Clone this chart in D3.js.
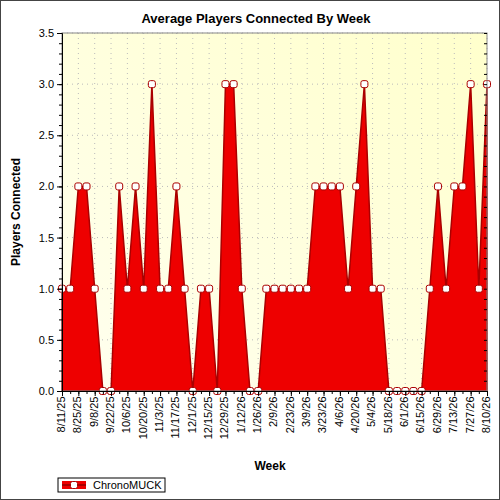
<!DOCTYPE html>
<html><head><meta charset="utf-8">
<script src="https://cdn.jsdelivr.net/npm/d3@7"></script>
<style>body{margin:0;background:#fff}text{font-family:"Liberation Sans",Arial,sans-serif}</style>
</head><body><div id="main"></div>
<script>
// ---- data ----
let startWeek = "2025-08-11";
let players = [1,1,2,2,1,0,0,2,1,2,1,3,1,1,2,1,0,1,1,0,3,3,1,0,0,1,1,
               1,1,1,1,2,2,2,2,1,2,3,1,1,0,0,0,0,0,1,2,1,2,2,3,1,3];
let seriesName = "ChronoMUCK";
let yTicks = [0,0.5,1,1.5,2,2.5,3,3.5];

let width = 500, height = 500;
let m = {left: 62, right: 13, top: 33, bottom: 109};

let svg = d3.select("#main").append("svg")
  .attr("width", width).attr("height", height);

let fmt = d3.timeFormat("%-m/%-d/%y");
let t0 = new Date(startWeek + "T00:00:00");
let data = players.map((v, i) => ({date: d3.timeWeek.offset(t0, i), value: v}));

let x = d3.scaleTime()
  .domain([data[0].date, data[data.length - 1].date])
  .range([m.left, width - m.right]);
let y = d3.scaleLinear().domain([0, 3.5]).range([height - m.bottom, m.top]);

// background gradient
let defs = svg.append("defs");
let grad = defs.append("linearGradient").attr("id", "bg")
  .attr("x1", "0").attr("y1", "1").attr("x2", "1").attr("y2", "0");
grad.append("stop").attr("offset", "0").attr("stop-color", "#fffff0");
grad.append("stop").attr("offset", "1").attr("stop-color", "#ffffcc");

svg.append("rect").attr("x", 0.5).attr("y", 0.5).attr("width", width - 1).attr("height", height - 1)
  .attr("fill", "#fff").attr("stroke", "#444");

svg.append("rect").attr("x", m.left).attr("y", m.top)
  .attr("width", width - m.left - m.right).attr("height", height - m.top - m.bottom)
  .attr("fill", "url(#bg)");

// dotted grid
svg.append("g").selectAll("line").data(yTicks.slice(1))
  .join("line").attr("x1", m.left).attr("x2", width - m.right)
  .attr("y1", d => y(d)).attr("y2", d => y(d))
  .attr("stroke", "#bbb").attr("stroke-dasharray", "1,4");
let labelWeeks = data.filter((d, i) => i % 2 === 0).map(d => d.date);
svg.append("g").selectAll("line").data(labelWeeks)
  .join("line").attr("x1", d => x(d)).attr("x2", d => x(d))
  .attr("y1", m.top).attr("y2", height - m.bottom)
  .attr("stroke", "#bbb").attr("stroke-dasharray", "1,4");

// area
let area = d3.area().x(d => x(d.date)).y0(y(0)).y1(d => y(d.value));
svg.append("path").datum(data).attr("d", area)
  .attr("fill", "#ee0000").attr("stroke", "#aa0000").attr("stroke-width", 1.5);

// markers
svg.append("g").selectAll("rect").data(data).join("rect")
  .attr("x", d => x(d.date) - 3.5).attr("y", d => y(d.value) - 3.5)
  .attr("width", 7).attr("height", 7).attr("rx", 2)
  .attr("fill", "#fff").attr("stroke", "#aa0000").attr("stroke-width", 1);

// frame
svg.append("rect").attr("x", m.left).attr("y", m.top)
  .attr("width", width - m.left - m.right).attr("height", height - m.top - m.bottom)
  .attr("fill", "none").attr("stroke", "#888");

// y axis + minor ticks
svg.append("g").attr("transform", `translate(${m.left},0)`)
  .call(d3.axisLeft(y).tickValues(yTicks).tickFormat(d3.format(".1f")).tickSize(5))
  .call(g => g.selectAll("text").attr("font-size", 11).attr("fill", "#000"));
svg.append("g").attr("transform", `translate(${m.left},0)`)
  .call(d3.axisLeft(y).ticks(35).tickFormat("").tickSize(3))
  .call(g => g.select(".domain").remove());
svg.append("g").attr("transform", `translate(${width - m.right},0)`)
  .call(d3.axisLeft(y).ticks(35).tickFormat("").tickSize(3))
  .call(g => g.select(".domain").remove());

// x axis
svg.append("g").attr("transform", `translate(0,${height - m.bottom})`)
  .call(d3.axisBottom(x).tickValues(data.map(d => d.date)).tickFormat("").tickSize(3));
svg.append("g").attr("transform", `translate(0,${height - m.bottom})`)
  .call(d3.axisBottom(x).tickValues(labelWeeks).tickFormat(fmt).tickSize(5))
  .call(g => g.selectAll("text")
    .attr("font-size", 11).attr("fill", "#000")
    .attr("transform", "rotate(-90)")
    .attr("text-anchor", "end").attr("dx", "-0.5em").attr("dy", "-0.15em")
    .attr("x", 0).attr("y", 0).attr("dominant-baseline", "central"));

// titles
svg.append("text").attr("x", 256).attr("y", 23).attr("text-anchor", "middle")
  .attr("font-size", 13).attr("font-weight", "bold").text("Average Players Connected By Week");
svg.append("text").attr("x", 270).attr("y", 470).attr("text-anchor", "middle")
  .attr("font-size", 12).attr("font-weight", "bold").text("Week");
svg.append("text").attr("transform", `translate(20,${y(1.75)}) rotate(-90)`)
  .attr("text-anchor", "middle").attr("font-size", 12).attr("font-weight", "bold")
  .text("Players Connected");

// legend
let lg = svg.append("g").attr("transform", "translate(58,478)");
lg.append("rect").attr("width", 107).attr("height", 14).attr("fill", "#fff").attr("stroke", "#000");
lg.append("rect").attr("x", 4).attr("y", 3).attr("width", 24).attr("height", 8).attr("fill", "#ee0000");
lg.append("line").attr("x1", 4).attr("x2", 28).attr("y1", 7).attr("y2", 7).attr("stroke", "#aa0000").attr("stroke-width", 2);
lg.append("rect").attr("x", 12.5).attr("y", 3.5).attr("width", 7).attr("height", 7).attr("rx", 2)
  .attr("fill", "#fff").attr("stroke", "#aa0000");
lg.append("text").attr("x", 35).attr("y", 11).attr("font-size", 11).text(seriesName);
</script></body></html>
